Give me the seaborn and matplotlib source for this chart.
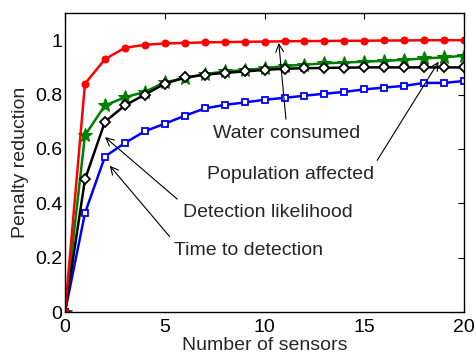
import numpy as np
import pandas as pd
import matplotlib
matplotlib.use("Agg")
import matplotlib.pyplot as plt
import seaborn as sns

sensors = list(range(21))
water = [0, 0.84, 0.93, 0.972, 0.983, 0.988, 0.99, 0.992, 0.993, 0.994, 0.995,
         0.996, 0.997, 0.997, 0.998, 0.998, 0.999, 0.999, 1.0, 1.0, 1.0]
population = [0, 0.65, 0.76, 0.79, 0.81, 0.845, 0.86, 0.875, 0.885, 0.89, 0.897,
              0.905, 0.91, 0.915, 0.918, 0.921, 0.924, 0.928, 0.933, 0.937, 0.943]
detection = [0, 0.488, 0.70, 0.76, 0.80, 0.84, 0.863, 0.873, 0.88, 0.885, 0.891,
             0.895, 0.897, 0.898, 0.899, 0.9, 0.9, 0.9, 0.9, 0.9, 0.9]
time_det = [0, 0.364, 0.572, 0.622, 0.665, 0.693, 0.722, 0.749, 0.762, 0.771, 0.781,
            0.788, 0.796, 0.803, 0.81, 0.819, 0.826, 0.832, 0.843, 0.843, 0.85]

xticks = [0, 5, 10, 15, 20]
yticks = [0, 0.2, 0.4, 0.6, 0.8, 1.0]
ytick_labels = ["0", "0.2", "0.4", "0.6", "0.8", "1"]

sns.set_style("white")
plt.rcParams["font.family"] = ["Liberation Sans", "DejaVu Sans"]
plt.rcParams["xtick.direction"] = "in"
plt.rcParams["ytick.direction"] = "in"

fig = plt.figure(figsize=(4.76, 3.62), dpi=100)
ax = fig.add_axes([0.1366, 0.138, 0.8384, 0.826])

df = pd.DataFrame({"x": sensors, "water": water, "pop": population,
                   "det": detection, "time": time_det})

sns.lineplot(data=df, x="x", y="time", ax=ax, color="#0000ff", lw=1.8,
             marker="s", markersize=5, markerfacecolor="white",
             markeredgecolor="#0000ff", markeredgewidth=1.3)
sns.lineplot(data=df, x="x", y="pop", ax=ax, color="#008000", lw=1.8,
             marker="*", markersize=10, markerfacecolor="#008000",
             markeredgecolor="#008000")
sns.lineplot(data=df, x="x", y="det", ax=ax, color="#000000", lw=1.8,
             marker="D", markersize=5, markerfacecolor="white",
             markeredgecolor="black", markeredgewidth=1.3)
sns.lineplot(data=df, x="x", y="water", ax=ax, color="#ff0000", lw=1.8,
             marker="o", markersize=5, markerfacecolor="#ff0000",
             markeredgecolor="#ff0000")

ax.set_xlim(0, 20)
ax.set_ylim(0, 1.1)
ax.set_xticks(xticks)
ax.set_xticklabels([str(t) for t in xticks])
ax.set_yticks(yticks)
ax.set_yticklabels(ytick_labels)
ax.tick_params(axis="both", labelsize=14, length=4, width=0.8,
               top=True, right=True, colors="black")
ax.tick_params(axis="x", pad=5)
ax.tick_params(axis="y", pad=2)
for s in ax.spines.values():
    s.set_color("black")
    s.set_linewidth(1.0)
ax.set_xlabel("Number of sensors", fontsize=14, labelpad=1)
ax.set_ylabel("Penalty reduction", fontsize=14, labelpad=4)

fs = 14
ax.annotate("Water consumed", xy=(10.7, 1.0), xytext=(11.1, 0.656),
            ha="center", va="center", fontsize=fs,
            arrowprops=dict(arrowstyle="->", color="black", lw=0.8,
                            relpos=(0.5, 1.0)))
ax.annotate("Population affected", xy=(18.8, 0.93), xytext=(11.28, 0.506),
            ha="center", va="center", fontsize=fs,
            arrowprops=dict(arrowstyle="->", color="black", lw=0.8,
                            relpos=(1.0, 1.0)))
ax.annotate("Detection likelihood", xy=(1.9, 0.65), xytext=(10.15, 0.367),
            ha="center", va="center", fontsize=fs,
            arrowprops=dict(arrowstyle="->", color="black", lw=0.8,
                            relpos=(0.0, 1.0)))
ax.annotate("Time to detection", xy=(2.15, 0.546), xytext=(9.2, 0.227),
            ha="center", va="center", fontsize=fs,
            arrowprops=dict(arrowstyle="->", color="black", lw=0.8,
                            relpos=(0.0, 1.0)))

fig.savefig("out.png", dpi=100)
